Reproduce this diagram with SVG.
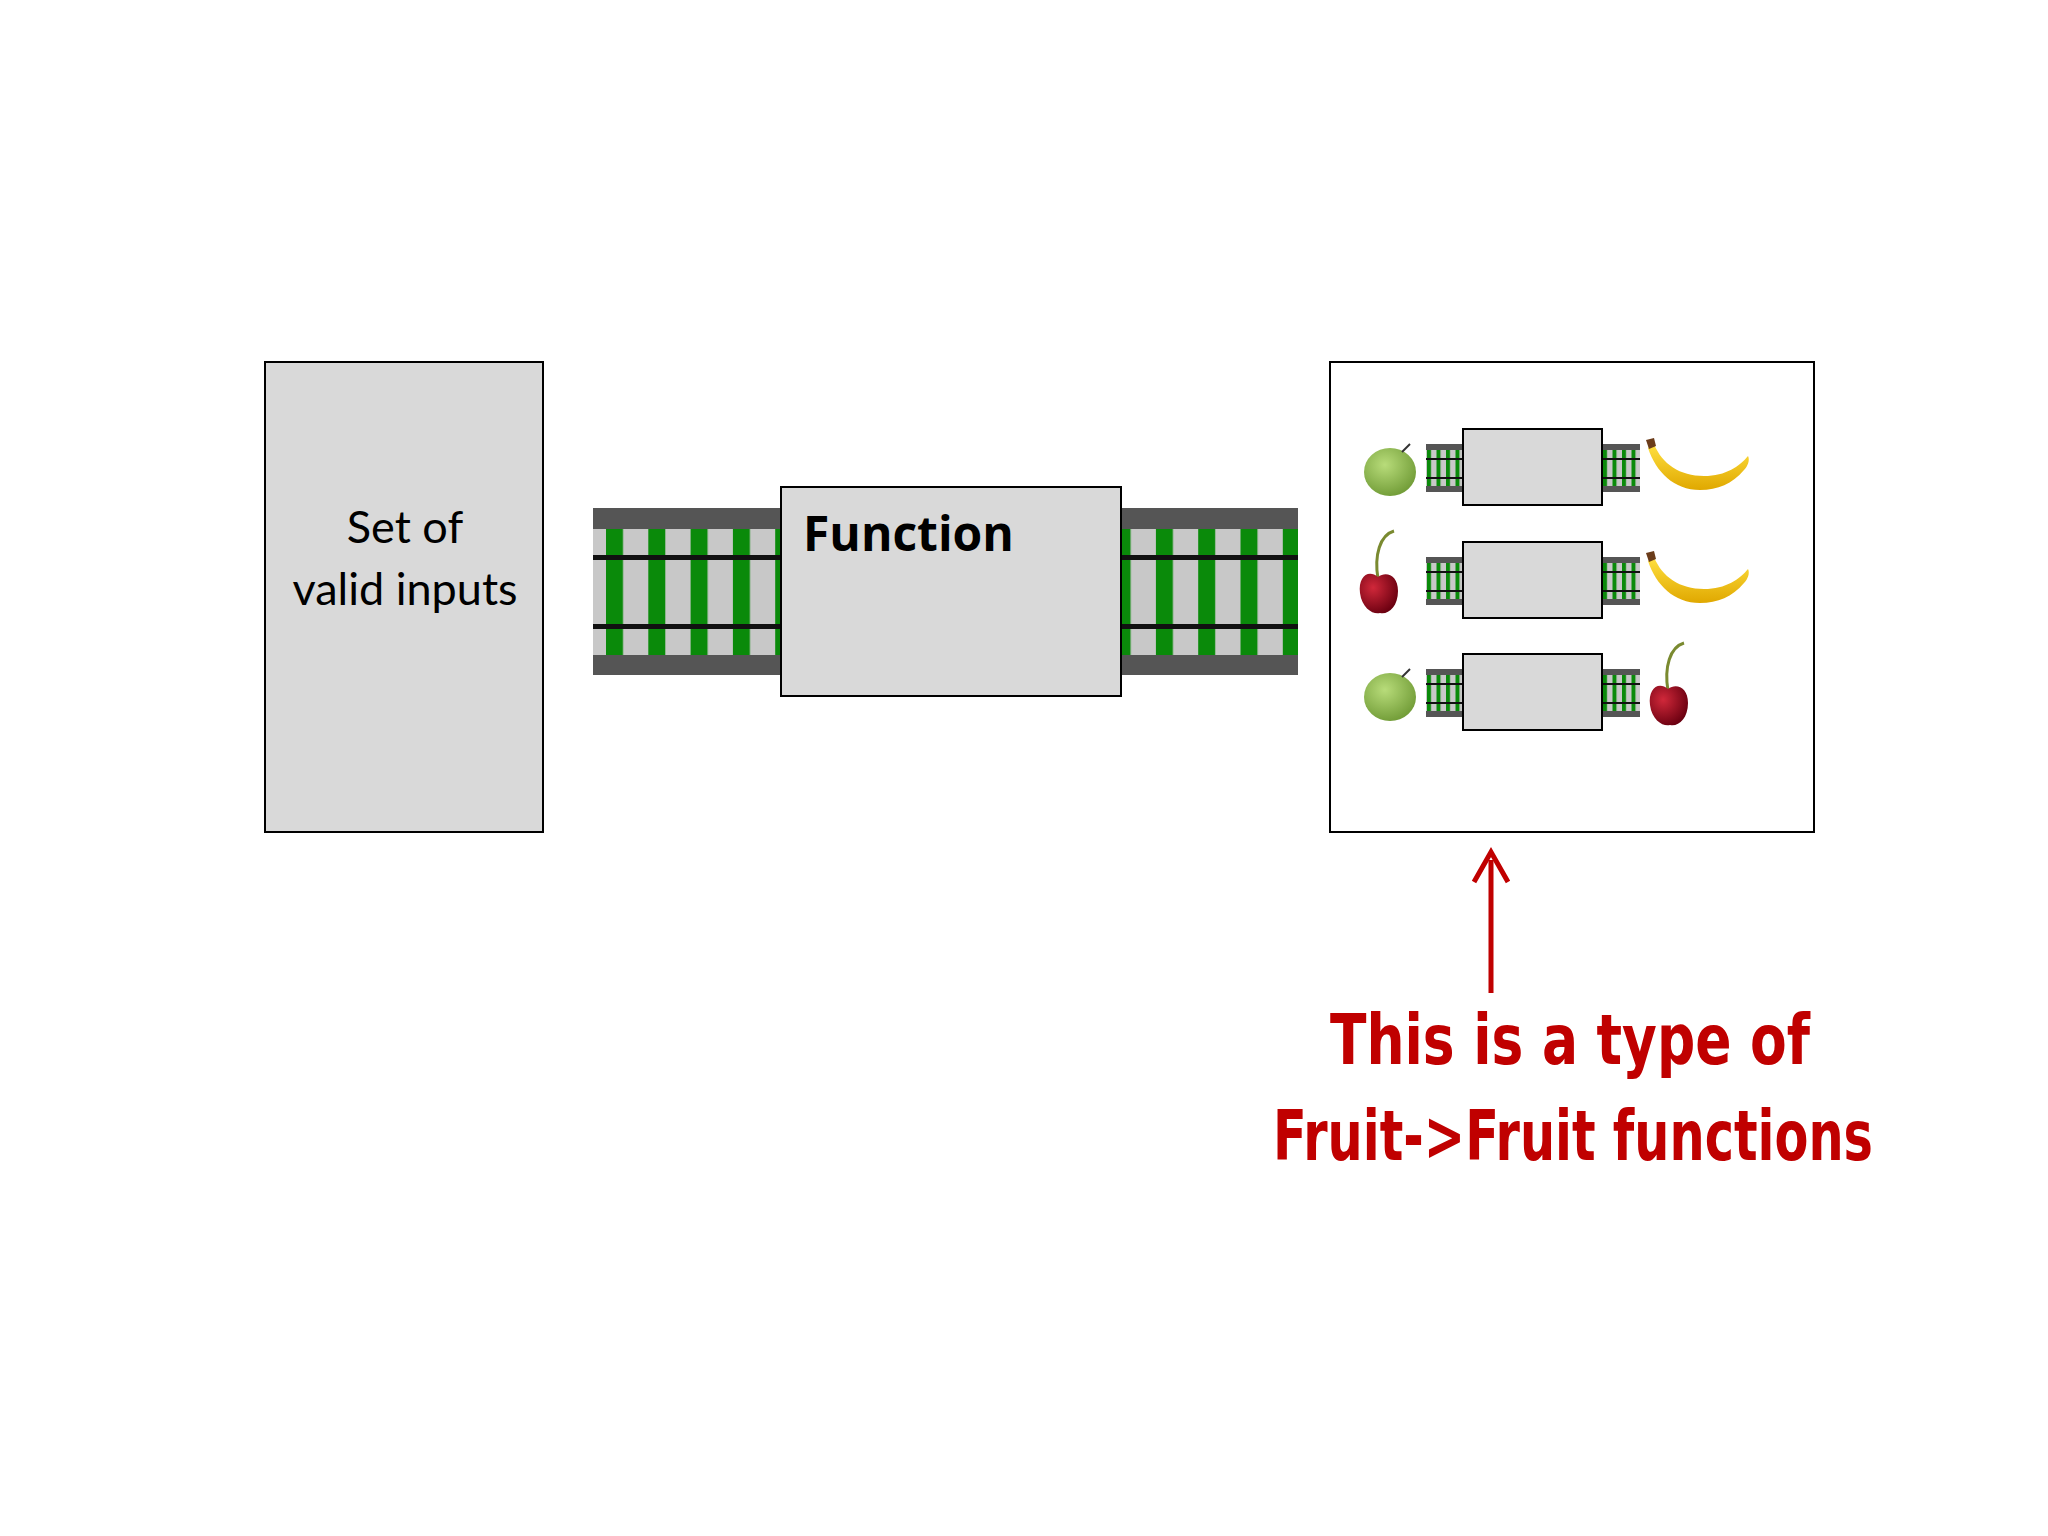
<svg xmlns="http://www.w3.org/2000/svg" width="2048" height="1536" viewBox="0 0 2048 1536">
<style>
.box{fill:#d9d9d9;stroke:#000;stroke-width:2}
.lbl{font-family:Lato,"Open Sans",sans-serif;font-size:45px;fill:#000;text-anchor:middle}
.red{font-family:"DejaVu Sans Condensed","DejaVu Sans",sans-serif;font-weight:bold;font-size:70px;fill:#c00000}
.dk{fill:#555}
.rl{fill:#111}
</style>
<defs>
<pattern id="bars" patternUnits="userSpaceOnUse" x="606" width="42.3" height="10"><rect width="43" height="10" fill="#c8c8c8"/><rect x="0" width="17" height="10" fill="#0a8a0a"/></pattern>
<pattern id="mbars" patternUnits="userSpaceOnUse" x="1" width="9.5" height="10"><rect width="10" height="10" fill="#c8c8c8"/><rect x="0" width="4" height="10" fill="#0a8a0a"/></pattern>
<radialGradient id="ap" cx="0.4" cy="0.35" r="0.7"><stop offset="0" stop-color="#b8dc7a"/><stop offset="1" stop-color="#6f9a35"/></radialGradient>
<radialGradient id="ch" cx="0.35" cy="0.35" r="0.7"><stop offset="0" stop-color="#d0283a"/><stop offset="1" stop-color="#6a0010"/></radialGradient>
<linearGradient id="bn" x1="0" y1="0" x2="0" y2="1"><stop offset="0" stop-color="#ffe040"/><stop offset="1" stop-color="#e0a800"/></linearGradient>
<g id="apple"><ellipse cx="0" cy="2" rx="26" ry="24" fill="url(#ap)"/><line x1="12" y1="-18" x2="20" y2="-26" stroke="#333" stroke-width="2"/></g>
<g id="cherry"><path d="M-2,-6 C-6,-30 0,-50 14,-54" fill="none" stroke="#7a8a30" stroke-width="3"/><path d="M-2,-8 C-12,-16 -22,-8 -20,8 C-18,24 -6,30 0,28 C8,30 18,22 18,6 C18,-10 6,-14 -2,-8 Z" fill="url(#ch)"/></g>
<g id="banana"><path d="M2,-18 C10,2 28,14 52,14 C74,14 88,4 96,-6 C98,-2 96,4 92,8 C80,22 66,28 48,28 C22,28 4,10 -4,-14 Z" fill="url(#bn)"/><path d="M-6,-22 L2,-24 L4,-16 L-3,-13 Z" fill="#6b3c1a"/></g>
<g id="mtrack">
<rect class="dk" x="0" y="0" width="38" height="48"/>
<rect x="0" y="6" width="38" height="36" fill="url(#mbars)"/>
<rect class="rl" x="0" y="14" width="38" height="2"/>
<rect class="rl" x="0" y="33" width="38" height="2"/>
</g>
<g id="mini">
<use href="#mtrack" x="-37" y="15"/>
<use href="#mtrack" x="139" y="15"/>
<rect class="box" x="0" y="0" width="139" height="76"/>
</g>
</defs>
<rect width="2048" height="1536" fill="#fff"/>
<g id="inputs"><rect class="box" x="265" y="362" width="278" height="470"/><text class="lbl" x="405" y="543">Set of</text><text class="lbl" x="405" y="605">valid inputs</text></g>
<g id="track-left">
<rect class="dk" x="593" y="508" width="188" height="167"/>
<rect x="593" y="529" width="188" height="126" fill="url(#bars)"/>
<rect class="rl" x="593" y="555" width="188" height="5"/>
<rect class="rl" x="593" y="624" width="188" height="5"/>
</g>
<g id="track-right">
<rect class="dk" x="1121" y="508" width="177" height="167"/>
<rect x="1121" y="529" width="177" height="126" fill="url(#bars)"/>
<rect class="rl" x="1121" y="555" width="177" height="5"/>
<rect class="rl" x="1121" y="624" width="177" height="5"/>
</g>
<g id="function"><rect class="box" x="781" y="487" width="340" height="209"/><text x="803" y="551" font-family="'Open Sans',sans-serif" font-weight="bold" font-size="48">Function</text></g>
<g id="fruit-functions">
<rect x="1330" y="362" width="484" height="470" fill="#fff" stroke="#000" stroke-width="2"/>
<g transform="translate(1463,429)"><use href="#mini"/></g>
<g transform="translate(1463,542)"><use href="#mini"/></g>
<g transform="translate(1463,654)"><use href="#mini"/></g>
<use href="#apple" transform="translate(1390,470)"/>
<use href="#banana" transform="translate(1652,462)"/>
<use href="#cherry" transform="translate(1380,585)"/>
<use href="#banana" transform="translate(1652,575)"/>
<use href="#apple" transform="translate(1390,695)"/>
<use href="#cherry" transform="translate(1670,697)"/>
</g>
<g id="connectors"><line x1="1491" y1="993" x2="1491" y2="860" stroke="#c00000" stroke-width="5"/><path d="M1474,882 L1491,852 L1508,882" fill="none" stroke="#c00000" stroke-width="5"/></g>
<g id="note"><text class="red" x="1330" y="1064" textLength="480" lengthAdjust="spacingAndGlyphs">This is a type of</text><text class="red" x="1273" y="1160" textLength="600" lengthAdjust="spacingAndGlyphs">Fruit-&gt;Fruit functions</text></g>
</svg>
